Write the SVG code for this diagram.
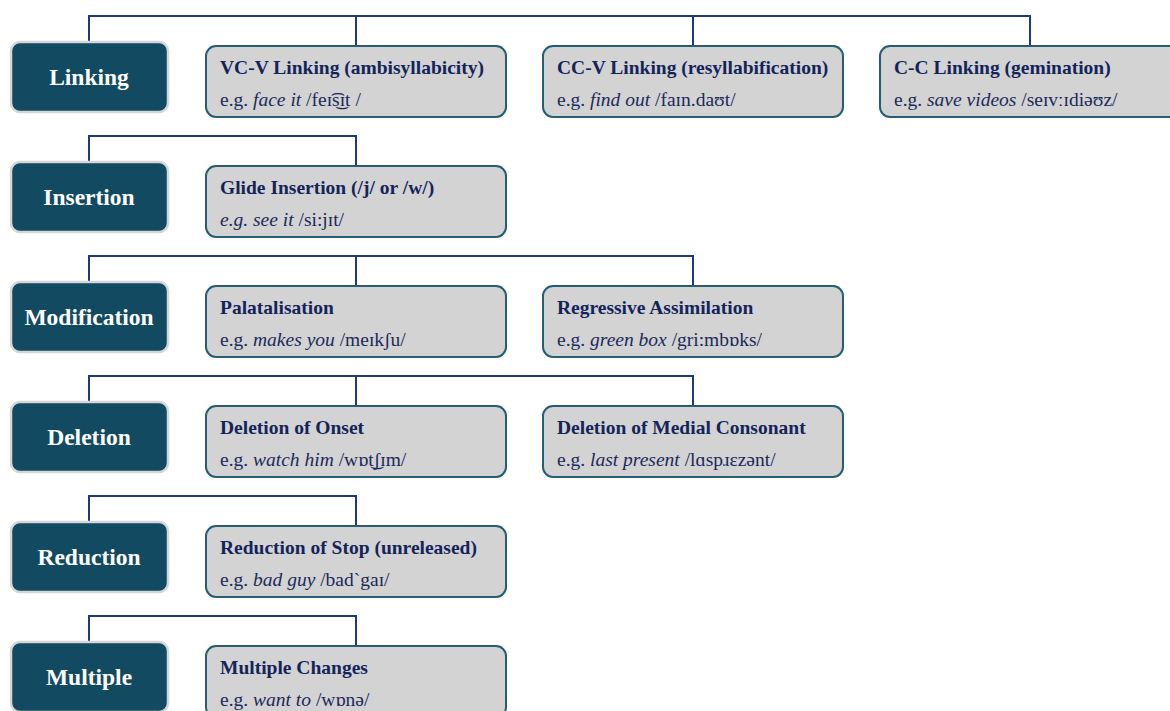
<svg xmlns="http://www.w3.org/2000/svg" width="1170" height="711" viewBox="0 0 1170 711">
  <style>
    .cat rect { fill: #124a62; stroke: #d6d6d6; stroke-width: 2.5; }
    .cat text { fill: #ffffff; font-family: "Liberation Serif", "Times New Roman", serif; font-weight: bold; font-size: 23.5px; text-anchor: middle; }
    .item rect { fill: #d3d3d3; stroke: #265d74; stroke-width: 2; }
    .item .t { fill: #14245a; font-family: "Liberation Serif", "Times New Roman", serif; font-weight: bold; font-size: 19.5px; }
    .item .e { fill: #1b2a5a; font-family: "Liberation Serif", "Times New Roman", serif; font-size: 19.5px; }
    .item .i { font-style: italic; }
    #connectors path { fill: none; stroke: #1f3a78; stroke-width: 2; }
  </style>

  <!-- connectors: one bracket per row, from the category to each of its items -->
  <g id="connectors">
    <path d="M89,42 V16 H1030 V46 M356,16 V46 M693,16 V46"/>
    <path d="M89,162 V136 H356 V166"/>
    <path d="M89,282 V256 H693 V286 M356,256 V286"/>
    <path d="M89,402 V376 H693 V406 M356,376 V406"/>
    <path d="M89,522 V496 H356 V526"/>
    <path d="M89,642 V616 H356 V646"/>
  </g>

  <!-- row 1: linking -->
  <g id="cat-linking" class="cat">
    <rect x="11" y="42" width="157" height="70" rx="9"/>
    <text x="89" y="85">Linking</text>
  </g>
  <g id="vcv-linking" class="item">
    <rect x="206" y="46" width="300" height="71" rx="10"/>
    <text class="t" x="220" y="74">VC-V Linking (ambisyllabicity)</text>
    <text class="e" x="220" y="106">e.g. <tspan class="i">face it</tspan> /feɪ͡s͜ɪt /</text>
  </g>
  <g id="ccv-linking" class="item">
    <rect x="543" y="46" width="300" height="71" rx="10"/>
    <text class="t" x="557" y="74">CC-V Linking (resyllabification)</text>
    <text class="e" x="557" y="106">e.g. <tspan class="i">find out</tspan> /faɪn.daʊt/</text>
  </g>
  <g id="cc-linking" class="item">
    <rect x="880" y="46" width="300" height="71" rx="10"/>
    <text class="t" x="894" y="74">C-C Linking (gemination)</text>
    <text class="e" x="894" y="106">e.g. <tspan class="i">save videos</tspan> /seɪvːɪdiəʊz/</text>
  </g>

  <!-- row 2: insertion -->
  <g id="cat-insertion" class="cat">
    <rect x="11" y="162" width="157" height="70" rx="9"/>
    <text x="89" y="205">Insertion</text>
  </g>
  <g id="glide-insertion" class="item">
    <rect x="206" y="166" width="300" height="71" rx="10"/>
    <text class="t" x="220" y="194">Glide Insertion (/j/ or /w/)</text>
    <text class="e" x="220" y="226"><tspan class="i">e.g. see it</tspan> /si:jɪt/</text>
  </g>

  <!-- row 3: modification -->
  <g id="cat-modification" class="cat">
    <rect x="11" y="282" width="157" height="70" rx="9"/>
    <text x="89" y="325">Modification</text>
  </g>
  <g id="palatalisation" class="item">
    <rect x="206" y="286" width="300" height="71" rx="10"/>
    <text class="t" x="220" y="314">Palatalisation</text>
    <text class="e" x="220" y="346">e.g. <tspan class="i">makes you</tspan> /meɪkʃu/</text>
  </g>
  <g id="regressive-assimilation" class="item">
    <rect x="543" y="286" width="300" height="71" rx="10"/>
    <text class="t" x="557" y="314">Regressive Assimilation</text>
    <text class="e" x="557" y="346">e.g. <tspan class="i">green box</tspan> /gri:mbɒks/</text>
  </g>

  <!-- row 4: deletion -->
  <g id="cat-deletion" class="cat">
    <rect x="11" y="402" width="157" height="70" rx="9"/>
    <text x="89" y="445">Deletion</text>
  </g>
  <g id="deletion-onset" class="item">
    <rect x="206" y="406" width="300" height="71" rx="10"/>
    <text class="t" x="220" y="434">Deletion of Onset</text>
    <text class="e" x="220" y="466">e.g. <tspan class="i">watch him</tspan> /wɒt͜ʃɪm/</text>
  </g>
  <g id="deletion-medial" class="item">
    <rect x="543" y="406" width="300" height="71" rx="10"/>
    <text class="t" x="557" y="434">Deletion of Medial Consonant</text>
    <text class="e" x="557" y="466">e.g. <tspan class="i">last present</tspan> /lɑspɹɛzənt/</text>
  </g>

  <!-- row 5: reduction -->
  <g id="cat-reduction" class="cat">
    <rect x="11" y="522" width="157" height="70" rx="9"/>
    <text x="89" y="565">Reduction</text>
  </g>
  <g id="stop-reduction" class="item">
    <rect x="206" y="526" width="300" height="71" rx="10"/>
    <text class="t" x="220" y="554">Reduction of Stop (unreleased)</text>
    <text class="e" x="220" y="586">e.g. <tspan class="i">bad guy</tspan> /bad`gaɪ/</text>
  </g>

  <!-- row 6: multiple -->
  <g id="cat-multiple" class="cat">
    <rect x="11" y="642" width="157" height="70" rx="9"/>
    <text x="89" y="685">Multiple</text>
  </g>
  <g id="multiple-changes" class="item">
    <rect x="206" y="646" width="300" height="71" rx="10"/>
    <text class="t" x="220" y="674">Multiple Changes</text>
    <text class="e" x="220" y="706">e.g. <tspan class="i">want to</tspan> /wɒnə/</text>
  </g>
</svg>
